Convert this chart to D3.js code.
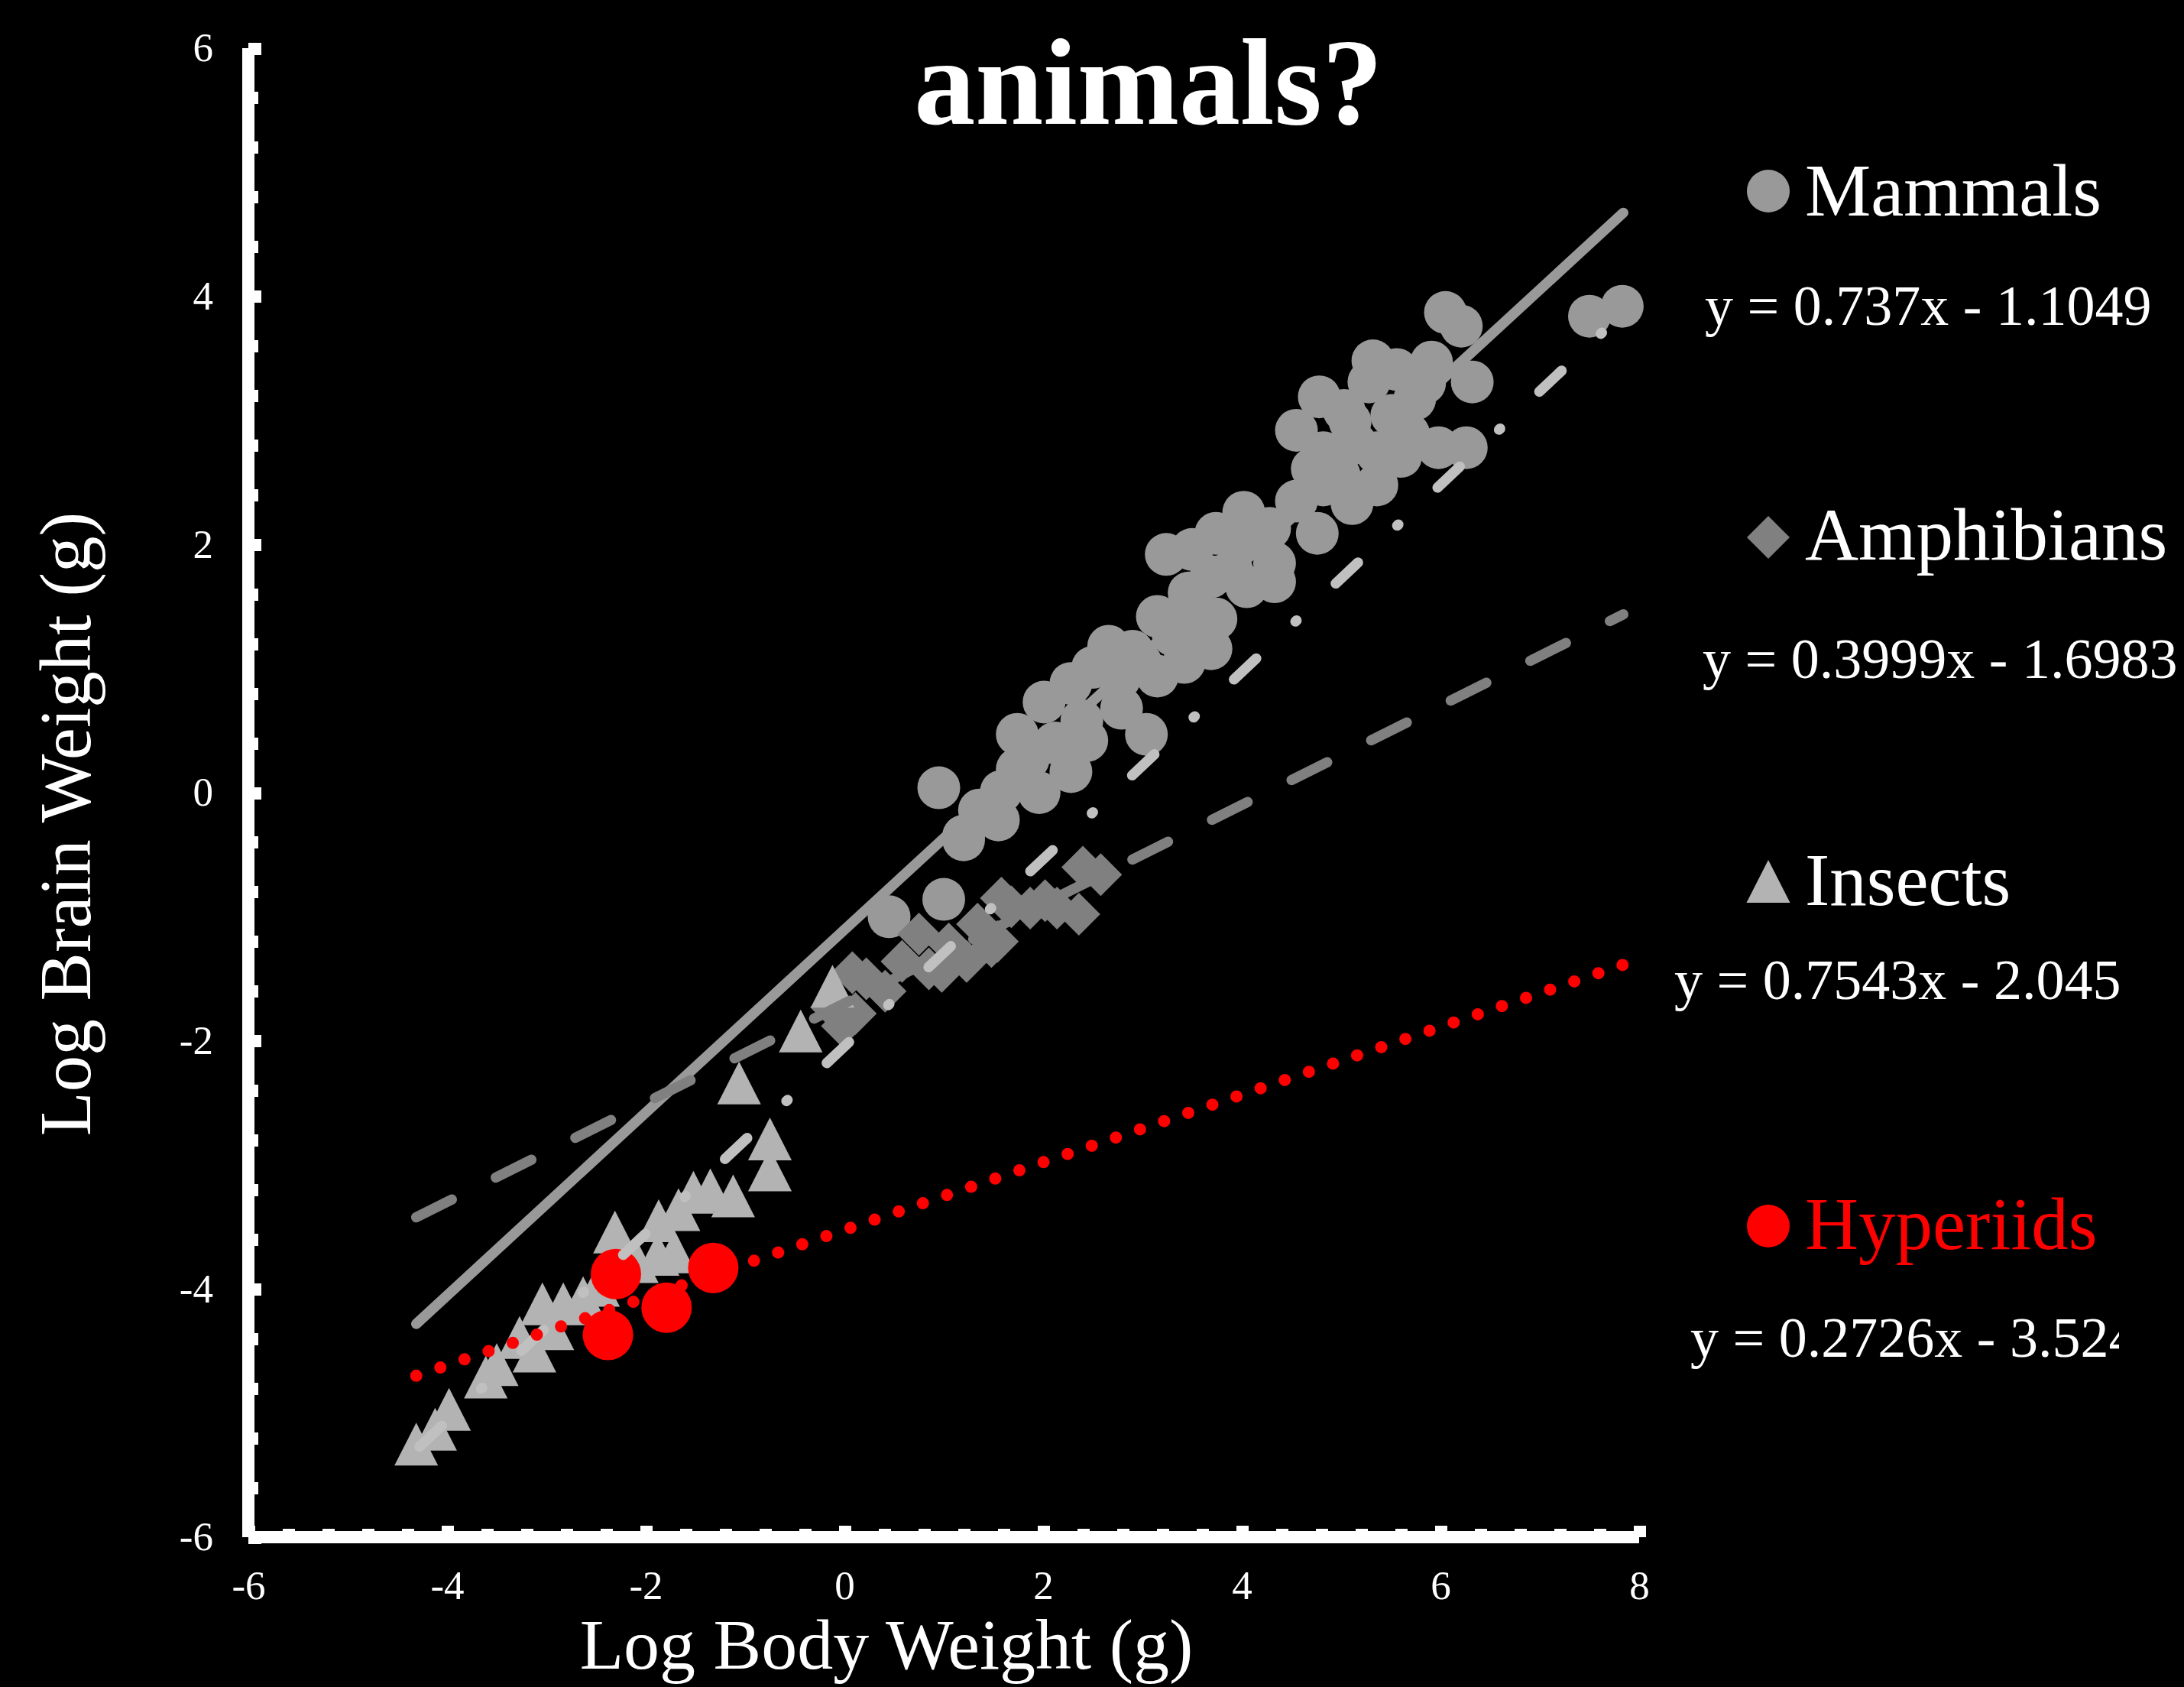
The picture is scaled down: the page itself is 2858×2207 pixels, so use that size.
<!DOCTYPE html>
<html><head><meta charset="utf-8">
<script src="https://cdn.jsdelivr.net/npm/d3@7"></script>
<style>html,body{margin:0;padding:0;background:#000;overflow:hidden}</style>
</head><body>
<svg id="chart" width="2858" height="2207" xmlns="http://www.w3.org/2000/svg"></svg>
<script>
// ---------- data (log10 body weight g, log10 brain weight g) ----------
const mammals = [
  [6.05,3.87],[6.21,3.76],[7.50,3.84],[7.83,3.92],
  [5.32,3.48],[5.56,3.41],[5.91,3.47],[5.84,3.30],[6.32,3.31],[5.28,3.31],
  [4.78,3.19],[4.55,2.92],[5.51,3.04],[5.68,2.89],[5.98,2.78],[6.26,2.78],[5.03,3.08],[5.14,2.82],
  [4.82,2.74],[5.36,2.48],[5.11,2.33],[4.76,2.09],[4.55,2.35],[5.60,2.71],[4.71,2.61],[5.74,3.17],
  [4.98,2.56],[5.36,2.74],[5.09,2.99],[4.82,2.48],
  [4.02,2.26],[3.74,2.09],[3.24,1.92],[3.50,1.96],[4.33,1.85],[4.33,1.70],[4.05,1.66],[3.90,1.79],
  [3.69,1.74],[3.47,1.61],[4.06,2.05],[4.28,2.13],
  [3.15,1.42],[3.74,1.40],[3.69,1.16],[3.42,1.05],[3.15,0.94],[3.31,1.27],[2.90,1.14],[2.66,1.18],
  [2.50,1.01],[2.28,0.88],[2.01,0.73],[2.79,0.68],[3.04,0.47],[2.44,0.42],[2.28,0.17],[1.96,0.00],
  [1.74,0.47],[1.85,0.27],[3.52,1.44],[2.98,1.05],[2.77,0.92],[2.39,0.58],[2.12,0.40],[1.74,0.19],
  [1.58,0.01],[3.42,1.36],
  [1.55,-0.22],[1.36,-0.14],[1.20,-0.35],[0.95,0.04],[1.00,-0.86],[0.45,-1.00],[1.20,-0.38]
];
const amphibians = [
  [2.58,-0.66],[2.40,-0.60],[2.36,-0.98],[2.14,-0.93],[2.02,-0.87],[1.87,-0.93],[1.68,-0.92],
  [1.58,-0.85],[1.54,-1.20],[1.48,-1.24],[1.34,-1.06],[1.23,-1.36],[1.05,-1.22],[0.98,-1.44],
  [0.85,-1.42],[0.75,-1.14],[0.58,-1.36],[0.41,-1.60],[0.22,-1.50],[0.08,-1.45],[0.11,-1.78],
  [-0.02,-1.88],[-0.13,-1.73]
];
const insects = [
  [-4.31,-5.25],[-4.12,-5.13],[-3.98,-4.97],[-3.61,-4.71],[-3.50,-4.61],[-3.27,-4.39],[-3.12,-4.50],
  [-2.94,-4.32],[-3.04,-4.12],[-2.83,-4.12],[-2.63,-4.07],[-2.48,-3.97],[-2.31,-3.54],[-2.09,-3.78],
  [-1.88,-3.72],[-1.71,-3.70],[-1.87,-3.45],[-1.67,-3.36],[-1.52,-3.22],[-1.35,-3.20],[-1.12,-3.25],
  [-1.06,-2.34],[-0.75,-2.79],[-0.75,-3.04],[-0.44,-1.92],[-0.12,-1.56]
];
const hyperiids = [[-2.30,-3.88],[-2.38,-4.37],[-1.79,-4.15],[-1.32,-3.83]];

const seriesNames = ["Mammals","Amphibians","Insects","Hyperiids"];
const equations = ["y = 0.737x - 1.1049","y = 0.3999x - 1.6983","y = 0.7543x - 2.045","y = 0.2726x - 3.524"];
const trendSlopes = [0.737, 0.3999, 0.7543, 0.2726];
const trendIntercepts = [-1.1049, -1.6983, -2.045, -3.524];
const trendRange = [-4.31, 7.84];
const xTicks = [-6,-4,-2,0,2,4,6,8];
const yTicks = [-6,-4,-2,0,2,4,6];
const titleText = "animals?";
const xLabel = "Log Body Weight (g)";
const yLabel = "Log Brain Weight (g)";

// ---------- setup ----------
const FONT = "'Liberation Serif','Times New Roman',Times,serif";
const svg = d3.select("#chart");
svg.append("rect").attr("width",2858).attr("height",2207).attr("fill","#000");

const x = d3.scaleLinear().domain([-6,8]).range([325,2145]);
const y = d3.scaleLinear().domain([-6,6]).range([2011,63]);

// custom marker types for d3.symbol (size = half-extent in px)
const circleType = {draw(c, s){ c.moveTo(s,0); c.arc(0,0,s,0,2*Math.PI); }};
const diamondType = {draw(c, s){ c.moveTo(0,-s); c.lineTo(s,0); c.lineTo(0,s); c.lineTo(-s,0); c.closePath(); }};
const triangleType = {draw(c, s){ c.moveTo(0,-s); c.lineTo(s*1.02,s); c.lineTo(-s*1.02,s); c.closePath(); }};

const styles = [
  {data: mammals,    type: circleType,   size: 28, fill: "#999999", line: "#999999", dash: null,               w: 13.5, legSize: 28},
  {data: amphibians, type: diamondType,  size: 28, fill: "#808080", line: "#808080", dash: "52 64.4",          w: 13.5, legSize: 28},
  {data: insects,    type: triangleType, size: 28, fill: "#b3b3b3", line: "#c0c0c0", dash: "40 70.5 2 70.5",   w: 13.5, legSize: 28, off: -6},
  {data: hyperiids,  type: circleType,   size: 33, fill: "#ff0000", line: "#ff0000", dash: "0 33.35",          w: 16,   legSize: 28}
];

// ---------- axes ----------
const axisG = svg.append("g").attr("shape-rendering","crispEdges");
const minorX = d3.range(0,36).map(i => -6 + i*0.4);
const minorY = d3.range(0,31).map(i => -6 + i*0.4);

function styleTicks(g){
  g.select(".domain").remove();
  g.selectAll(".tick line").attr("stroke","#fff").attr("stroke-width",16);
  g.selectAll(".tick text").remove();
}
axisG.append("g").attr("transform","translate(325,0)")
  .call(d3.axisRight(y).tickValues(minorY).tickSize(13).tickFormat("")).call(styleTicks);
axisG.append("g").attr("transform","translate(325,0)")
  .call(d3.axisRight(y).tickValues(yTicks).tickSize(17).tickFormat("")).call(styleTicks);
axisG.append("g").attr("transform","translate(0,2011)")
  .call(d3.axisTop(x).tickValues(minorX).tickSize(11).tickFormat("")).call(styleTicks);
axisG.append("g").attr("transform","translate(0,2011)")
  .call(d3.axisTop(x).tickValues(xTicks).tickSize(15).tickFormat("")).call(styleTicks);
axisG.append("line").attr("x1",325).attr("x2",325).attr("y1",y(6)).attr("y2",y(-6))
  .attr("stroke","#fff").attr("stroke-width",16);
axisG.append("line").attr("x1",x(-6)).attr("x2",x(8)).attr("y1",2011).attr("y2",2011)
  .attr("stroke","#fff").attr("stroke-width",16);

// tick labels
const yLab = svg.append("g").attr("transform","translate(325,0)")
  .call(d3.axisLeft(y).tickValues(yTicks).tickSize(0).tickPadding(46).tickFormat(d => String(d)));
yLab.select(".domain").remove();
yLab.selectAll("text").attr("fill","#fff").style("font-family",FONT).style("font-size","53px");
const xLab = svg.append("g").attr("transform","translate(0,2011)")
  .call(d3.axisBottom(x).tickValues(xTicks).tickSize(0).tickPadding(43).tickFormat(d => String(d)));
xLab.select(".domain").remove();
xLab.selectAll("text").attr("fill","#fff").style("font-family",FONT).style("font-size","53px");

// axis titles
svg.append("text").attr("x",1160).attr("y",2183).attr("text-anchor","middle")
  .attr("fill","#fff").style("font-family",FONT).style("font-size","94px").text(xLabel);
svg.append("text").attr("transform","translate(118,1078) rotate(-90)").attr("text-anchor","middle")
  .attr("fill","#fff").style("font-family",FONT).style("font-size","95px").text(yLabel);

// title (second line visible)
svg.append("text").attr("x",1503).attr("y",162).attr("text-anchor","middle")
  .attr("fill","#fff").style("font-family",FONT).style("font-weight","bold").style("font-size","160px").text(titleText);

// ---------- markers ----------
const plotG = svg.append("g");
styles.forEach((s, i) => {
  plotG.append("g").selectAll("path").data(s.data).join("path")
    .attr("transform", d => `translate(${x(d[0])},${y(d[1])})`)
    .attr("d", d3.symbol().type(s.type).size(s.size))
    .attr("fill", s.fill);
});

// ---------- trendlines ----------
const lineGen = d3.line().x(d => x(d[0])).y(d => y(d[1]));
styles.forEach((s, i) => {
  const pts = trendRange.map(v => [v, trendSlopes[i]*v + trendIntercepts[i]]);
  const p = svg.append("path").attr("d", lineGen(pts)).attr("fill","none")
    .attr("stroke", s.line).attr("stroke-width", s.w).attr("stroke-linecap","round");
  if (s.dash) p.attr("stroke-dasharray", s.dash);
  if (s.off) p.attr("stroke-dashoffset", s.off);
});

// ---------- legend ----------
svg.append("defs").append("clipPath").attr("id","eqclip")
  .append("rect").attr("x",0).attr("y",0).attr("width",2773).attr("height",2207);
const legMarkerY = [250, 703, 1153, 1604];
const legTextY = [282, 732, 1184, 1634];
const eqX = [2231, 2228, 2191, 2212];
const eqY = [425, 887, 1307, 1775];
const leg = svg.append("g");
styles.forEach((s, i) => {
  leg.append("path").attr("transform",`translate(2314,${legMarkerY[i]})`)
    .attr("d", d3.symbol().type(s.type).size(s.legSize)).attr("fill", s.fill);
  leg.append("text").attr("x",2362).attr("y",legTextY[i])
    .attr("fill", i === 3 ? "#ff0000" : "#fff").style("font-family",FONT).style("font-size","97px")
    .text(seriesNames[i]);
  const t = leg.append("text").attr("x",eqX[i]).attr("y",eqY[i]).attr("fill","#fff")
    .style("font-family",FONT).style("font-size","74px").text(equations[i]);
  if (i >= 2) t.attr("clip-path","url(#eqclip)");
});
</script>
</body></html>
